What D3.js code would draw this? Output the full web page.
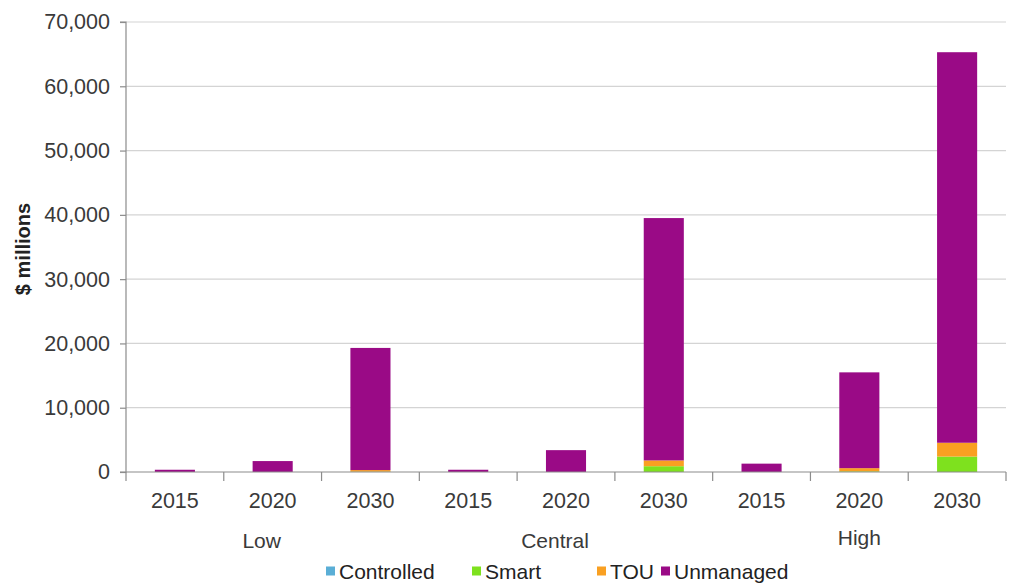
<!DOCTYPE html>
<html>
<head>
<meta charset="utf-8">
<script src="https://cdn.jsdelivr.net/npm/d3@7"></script>
<style>
  html, body { margin: 0; padding: 0; background: #fff; }
  svg { display: block; font-family: "Liberation Sans", Arial, sans-serif; }
</style>
</head>
<body>
<svg id="chart" width="1019" height="583"></svg>
<script>
// Scenario groups and years along the category axis
const scenarios = ["Low", "Central", "High"];
const years = ["2015", "2020", "2030"];
const seriesNames = ["Controlled", "Smart", "TOU", "Unmanaged"];
const seriesColors = ["#5aaed6", "#7ee11e", "#f9a022", "#9a0a86"];

// Values in $ millions, one entry per scenario/year bar (Low 2015 ... High 2030)
const controlled = [0, 0, 0, 0, 0, 0, 0, 0, 0];
const smart      = [0, 0, 50, 0, 0, 900, 0, 100, 2400];
const tou        = [0, 0, 250, 0, 0, 900, 0, 500, 2150];
const unmanaged  = [350, 1700, 19000, 350, 3400, 37700, 1300, 14900, 60750];

const yTicks = [0, 10000, 20000, 30000, 40000, 50000, 60000, 70000];

const svg = d3.select("#chart");
const margin = { left: 126, right: 13, top: 22, bottom: 111 };
const W = 1019, H = 583;
const plotW = W - margin.left - margin.right;
const plotH = H - margin.top - margin.bottom;
const textColor = "#3a3a3a";

const categories = [];
scenarios.forEach(s => years.forEach(yr => categories.push(s + "|" + yr)));

const rows = categories.map((c, i) => ({
  key: c,
  Controlled: controlled[i],
  Smart: smart[i],
  TOU: tou[i],
  Unmanaged: unmanaged[i]
}));

const x = d3.scaleBand().domain(categories).range([0, plotW]).paddingInner(0.59).paddingOuter(0.295);
const xOuter = d3.scaleBand().domain(categories).range([0, plotW]);
const y = d3.scaleLinear().domain([0, 70000]).range([plotH, 0]);

const g = svg.append("g").attr("transform", `translate(${margin.left},${margin.top})`);

// horizontal gridlines
g.append("g")
  .selectAll("line")
  .data(yTicks.filter(t => t > 0))
  .join("line")
  .attr("x1", 0).attr("x2", plotW)
  .attr("y1", d => y(d)).attr("y2", d => y(d))
  .attr("stroke", "#d4d4d4").attr("stroke-width", 1.2);

// stacked bars
const stack = d3.stack().keys(seriesNames);
const layers = stack(rows);
const color = d3.scaleOrdinal().domain(seriesNames).range(seriesColors);

g.append("g")
  .selectAll("g")
  .data(layers)
  .join("g")
  .attr("fill", d => color(d.key))
  .selectAll("rect")
  .data(d => d)
  .join("rect")
  .attr("x", d => x(d.data.key))
  .attr("width", x.bandwidth())
  .attr("y", d => y(d[1]))
  .attr("height", d => Math.max(0, y(d[0]) - y(d[1])));

// y axis
const yAxis = d3.axisLeft(y)
  .tickValues(yTicks)
  .tickFormat(d3.format(","))
  .tickSize(6)
  .tickPadding(10);
const ya = g.append("g").call(yAxis);
ya.select(".domain").attr("stroke", "#8c8c8c").attr("stroke-width", 1.2).attr("d", `M-6,${plotH}H0V0H-6`);
ya.selectAll(".tick line").attr("stroke", "#8c8c8c").attr("stroke-width", 1.2);
ya.selectAll(".tick text")
  .attr("font-size", 21.5)
  .attr("fill", textColor)
  .attr("font-family", "'Liberation Sans', Arial, sans-serif");

// x axis: baseline, category boundary ticks, year labels
const xa = g.append("g").attr("transform", `translate(0,${plotH})`);
xa.append("line")
  .attr("x1", 0).attr("x2", plotW)
  .attr("stroke", "#8c8c8c").attr("stroke-width", 1.2);
xa.selectAll("line.tick")
  .data(categories.concat(["end"]))
  .join("line")
  .attr("class", "tick")
  .attr("x1", (d, i) => i < categories.length ? xOuter(d) : plotW)
  .attr("x2", (d, i) => i < categories.length ? xOuter(d) : plotW)
  .attr("y1", 0).attr("y2", 9)
  .attr("stroke", "#8c8c8c").attr("stroke-width", 1.2);
xa.selectAll("text.year")
  .data(categories)
  .join("text")
  .attr("class", "year")
  .attr("x", d => xOuter(d) + xOuter.bandwidth() / 2)
  .attr("y", 36)
  .attr("text-anchor", "middle")
  .attr("font-size", 21.5)
  .attr("fill", textColor)
  .text(d => d.split("|")[1]);

// scenario group labels
const groupOffset = { Low: [-11, 76], Central: [-11, 76], High: [0, 73] };
xa.selectAll("text.group")
  .data(scenarios)
  .join("text")
  .attr("class", "group")
  .attr("x", s => {
    const first = xOuter(s + "|" + years[0]);
    const last = xOuter(s + "|" + years[years.length - 1]) + xOuter.bandwidth();
    return (first + last) / 2 + groupOffset[s][0];
  })
  .attr("y", s => groupOffset[s][1])
  .attr("text-anchor", "middle")
  .attr("font-size", 21)
  .attr("fill", textColor)
  .text(s => s);

// y axis title
svg.append("text")
  .attr("transform", "translate(30,249) rotate(-90)")
  .attr("text-anchor", "middle")
  .attr("font-size", 20)
  .attr("font-weight", "bold")
  .attr("fill", "#222")
  .text("$ millions");

// legend
const legendX = [326, 472, 597, 661];
const legend = svg.append("g").attr("transform", "translate(0,571)");
const li = legend.selectAll("g")
  .data(seriesNames)
  .join("g")
  .attr("transform", (d, i) => `translate(${legendX[i]},0)`);
li.append("rect")
  .attr("x", 0).attr("y", -4.5)
  .attr("width", 9).attr("height", 9)
  .attr("fill", d => color(d));
li.append("text")
  .attr("x", 13).attr("y", 8)
  .attr("font-size", 21)
  .attr("fill", "#222")
  .text(d => d);
</script>
</body>
</html>
